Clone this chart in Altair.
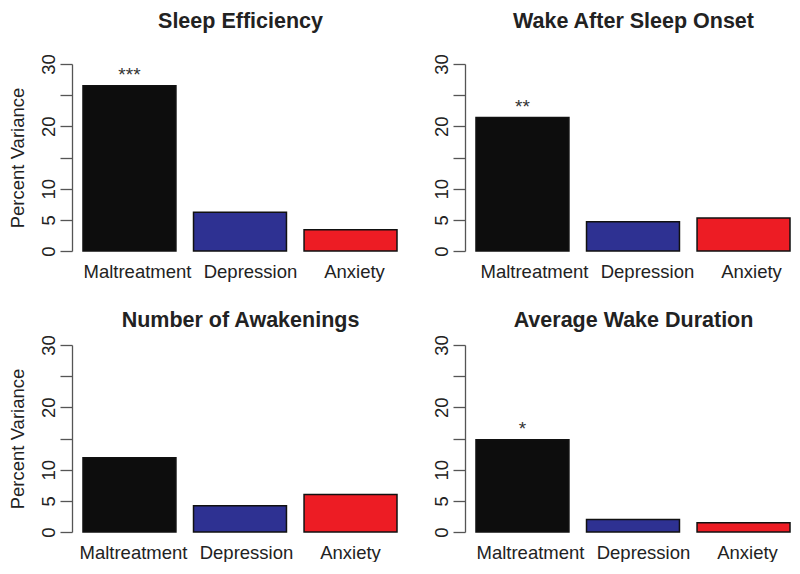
import altair as alt
import pandas as pd

# ---- data ----
predictors = ["Maltreatment", "Depression", "Anxiety"]
panel_titles = ["Sleep Efficiency", "Wake After Sleep Onset",
                "Number of Awakenings", "Average Wake Duration"]
sleep_efficiency = [26.5, 6.2, 3.4]
wake_after_sleep_onset = [21.4, 4.7, 5.3]
number_of_awakenings = [11.9, 4.2, 6.0]
average_wake_duration = [14.8, 2.0, 1.5]
significance = [["***", "", ""], ["**", "", ""], ["", "", ""], ["*", "", ""]]
y_ticks = [0, 5, 10, 15, 20, 25, 30]
y_title = "Percent Variance"

# ---- style ----
FONT = "Liberation Sans"
TEXT = "#222222"
AXIS = "#555555"
bar_colors = ["#0d0d0d", "#2e3192", "#ed1c24"]
W, H = 325, 187


def panel(title, values, sig, left, title_offset, shift):
    df = pd.DataFrame({"predictor": predictors, "value": values, "sig": sig})
    label_offset = {
        "condition": [
            {"test": "datum.value == 'Depression'", "value": 10.5 + shift},
            {"test": "datum.value == 'Anxiety'", "value": 4 + shift},
        ],
        "value": 8 + shift,
    }
    x = alt.X(
        "predictor:N", sort=predictors,
        scale=alt.Scale(paddingInner=0.159, paddingOuter=0.0497, align=1),
        axis=alt.Axis(title=None, labelAngle=0, domain=False, ticks=False,
                      tickSize=0, labelPadding=26, labelBaseline="alphabetic",
                      labelAlign="center", labelFontSize=18.5, labelFont=FONT,
                      labelColor=TEXT, labelOffset=label_offset),
    )
    axis_kw = dict(
        values=y_ticks,
        labelExpr="(datum.value == 15 || datum.value == 25) ? '' : datum.label",
        labelAngle=270, labelAlign="center", labelBaseline="alphabetic",
        labelPadding=6, tickSize=12, labelFontSize=18.5, labelFont=FONT,
        labelColor=TEXT, labelOverlap=False, grid=False,
        domainColor=AXIS, tickColor=AXIS, domainWidth=1.3, tickWidth=1.3,
    )
    if left:
        axis_kw.update(title=y_title, titleX=-49, titleY=H / 2, titleAngle=270,
                       titleAlign="center", titleBaseline="alphabetic",
                       titleFontSize=18.5, titleFontWeight="normal",
                       titleFont=FONT, titleColor=TEXT)
    else:
        axis_kw.update(title=None)
    y = alt.Y("value:Q", scale=alt.Scale(domain=[0, 30], nice=False, zero=True),
              axis=alt.Axis(**axis_kw))

    base = alt.Chart(df)
    bars = base.mark_bar(stroke="#111111", strokeWidth=1.5).encode(
        x=x, y=y,
        color=alt.Color("predictor:N", sort=predictors,
                        scale=alt.Scale(domain=predictors, range=bar_colors),
                        legend=None),
    )
    stars = base.mark_text(baseline="alphabetic", align="center", dy=-5,
                           fontSize=19, font=FONT, color="#333333").encode(
        x=x, y=y, text="sig:N",
    )
    return alt.layer(bars, stars).properties(
        width=W, height=H,
        title=alt.TitleParams(text=title, fontSize=21.5, fontWeight="bold",
                              font=FONT, color=TEXT, anchor="middle",
                              frame="group", offset=title_offset,
                              baseline="alphabetic", dx=6),
    )


series = [sleep_efficiency, wake_after_sleep_onset,
          number_of_awakenings, average_wake_duration]
p = [
    panel(panel_titles[0], series[0], significance[0], True, 4, 0),
    panel(panel_titles[1], series[1], significance[1], False, 4, 4),
    panel(panel_titles[2], series[2], significance[2], True, -14, -4),
    panel(panel_titles[3], series[3], significance[3], False, -14, 0),
]

top_row = alt.hconcat(p[0], p[1], spacing=34)
bottom_row = alt.hconcat(p[2], p[3], spacing=34)
chart = alt.vconcat(top_row, bottom_row, spacing=29).properties(
    padding={"top": 3, "left": 0, "right": 0, "bottom": 0},
    background="white",
).configure_view(stroke=None)

chart.save("out.html", embed_options={"renderer": "svg", "actions": False})
